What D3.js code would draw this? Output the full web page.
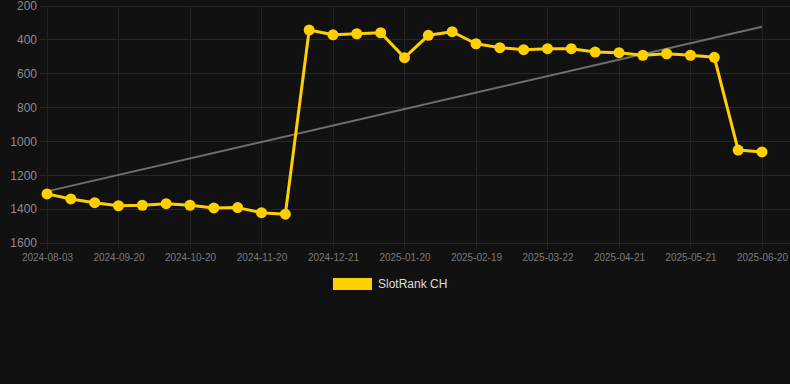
<!DOCTYPE html>
<html>
<head>
<meta charset="utf-8">
<script src="https://cdn.jsdelivr.net/npm/d3@7"></script>
<style>
  html, body { margin: 0; padding: 0; background: #111111; }
  svg { display: block; font-family: Arial, "Liberation Sans", sans-serif; }
</style>
</head>
<body>
<svg id="chart" width="790" height="384"></svg>
<script>
// ---- data ----
const seriesName = "SlotRank CH";
const rankValues = [1310, 1340, 1362, 1380, 1377, 1368, 1377, 1393, 1391, 1421, 1430,
                    342, 370, 364, 358, 505, 373, 352, 423, 446, 458,
                    452, 452, 472, 476, 491, 482, 491, 503, 1051, 1062];
const tickLabels = ["2024-08-03", "2024-09-20", "2024-10-20", "2024-11-20", "2024-12-21",
                    "2025-01-20", "2025-02-19", "2025-03-22", "2025-04-21", "2025-05-21", "2025-06-20"];
const yTicks = [200, 400, 600, 800, 1000, 1200, 1400, 1600];
const tickEvery = 3;

// ---- layout ----
const W = 790, H = 384;
const plot = { left: 47, right: 762, top: 6, bottom: 243, gridLeft: 40, gridRight: 790 };
const svg = d3.select("#chart");
svg.append("rect").attr("width", W).attr("height", H).attr("fill", "#111111");

const idx = d3.range(rankValues.length);
const x = d3.scalePoint().domain(idx).range([plot.left, plot.right]);
const y = d3.scaleLinear().domain([200, 1600]).range([plot.top, plot.bottom]);

// grid
const grid = svg.append("g");
grid.selectAll("line.h").data(yTicks).join("line")
  .attr("x1", plot.gridLeft).attr("x2", plot.gridRight)
  .attr("y1", d => y(d)).attr("y2", d => y(d))
  .attr("stroke", "#262626").attr("stroke-width", 1).attr("shape-rendering", "crispEdges");
const xTickIdx = idx.filter(i => i % tickEvery === 0);
grid.selectAll("line.v").data(xTickIdx).join("line")
  .attr("x1", d => x(d)).attr("x2", d => x(d))
  .attr("y1", plot.top).attr("y2", plot.bottom + 6)
  .attr("stroke", "#222222").attr("stroke-width", 1).attr("shape-rendering", "crispEdges");

// y axis
const yAxis = d3.axisLeft(y).tickValues(yTicks).tickFormat(d3.format("d")).tickSize(0).tickPadding(0);
const gy = svg.append("g").attr("transform", "translate(37,0)").call(yAxis);
gy.select(".domain").remove();
gy.selectAll("text").attr("fill", "#8c8c8c").attr("font-size", 12).attr("font-family", "Arial, 'Liberation Sans', sans-serif");

// x axis
const xAxis = d3.axisBottom(x).tickValues(xTickIdx)
  .tickFormat(d => tickLabels[d / tickEvery]).tickSize(0).tickPadding(0);
const gx = svg.append("g").attr("transform", `translate(0,${plot.bottom + 11})`).call(xAxis);
gx.select(".domain").remove();
gx.selectAll("text").attr("fill", "#7a7a7a").attr("font-size", 10).attr("font-family", "Arial, 'Liberation Sans', sans-serif");

// trend line (least squares)
const n = rankValues.length;
const mx = d3.mean(idx), my = d3.mean(rankValues);
const slope = d3.sum(idx, i => (i - mx) * (rankValues[i] - my)) / d3.sum(idx, i => (i - mx) ** 2);
const icpt = my - slope * mx;
svg.append("line")
  .attr("x1", x(0)).attr("y1", y(icpt))
  .attr("x2", x(n - 1)).attr("y2", y(icpt + slope * (n - 1)))
  .attr("stroke", "#6e6e6e").attr("stroke-width", 2);

// series line
const color = "#FFD000";
svg.append("path").datum(idx)
  .attr("d", d3.line().x(i => x(i)).y(i => y(rankValues[i])))
  .attr("fill", "none").attr("stroke", color).attr("stroke-width", 3)
  .attr("stroke-linejoin", "round");
svg.append("g").selectAll("circle").data(idx).join("circle")
  .attr("cx", i => x(i)).attr("cy", i => y(rankValues[i])).attr("r", 5.5)
  .attr("fill", color);

// legend
const lg = svg.append("g");
lg.append("rect").attr("x", 333).attr("y", 278).attr("width", 39).attr("height", 12).attr("fill", color);
lg.append("text").attr("x", 378).attr("y", 284).attr("dy", "0.35em")
  .attr("fill", "#dddddd").attr("font-size", 12).text(seriesName);
</script>
</body>
</html>
